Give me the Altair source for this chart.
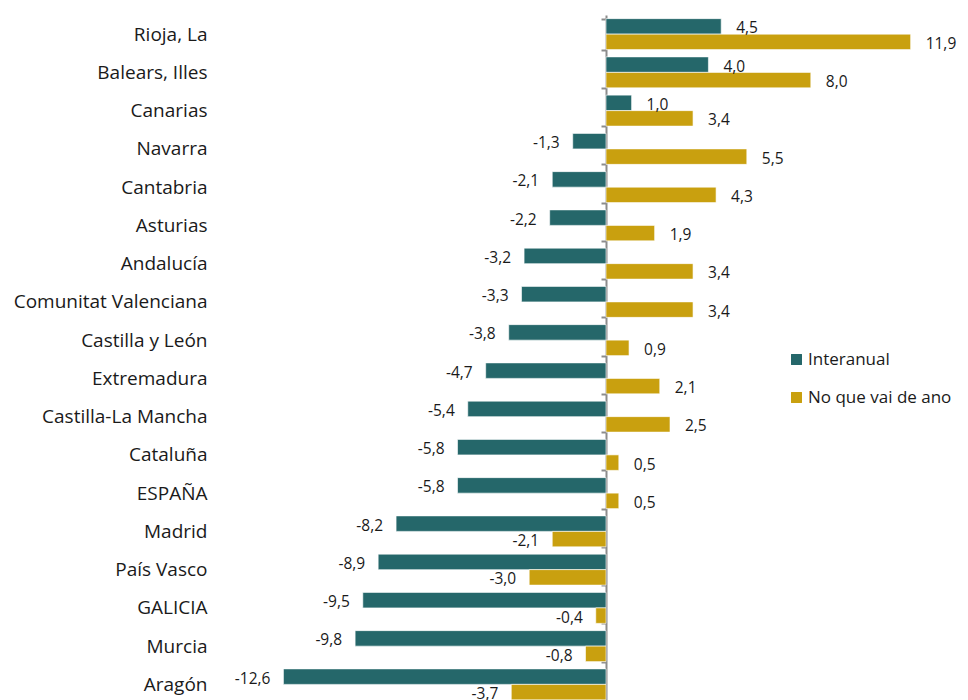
import altair as alt
import pandas as pd

categories = ["Rioja, La", "Balears, Illes", "Canarias", "Navarra", "Cantabria", "Asturias",
              "Andalucía", "Comunitat Valenciana", "Castilla y León", "Extremadura",
              "Castilla-La Mancha", "Cataluña", "ESPAÑA", "Madrid", "País Vasco", "GALICIA",
              "Murcia", "Aragón"]
interanual = [4.5, 4.0, 1.0, -1.3, -2.1, -2.2, -3.2, -3.3, -3.8, -4.7, -5.4, -5.8, -5.8,
              -8.2, -8.9, -9.5, -9.8, -12.6]
ano = [11.9, 8.0, 3.4, 5.5, 4.3, 1.9, 3.4, 3.4, 0.9, 2.1, 2.5, 0.5, 0.5, -2.1, -3.0, -0.4,
       -0.8, -3.7]
series = ["Interanual", "No que vai de ano"]
colors = ["#25676a", "#c9a00f"]

rows = []
for c, a, b in zip(categories, interanual, ano):
    for s, v in zip(series, (a, b)):
        rows.append({"cat": c, "serie": s, "valor": v,
                     "label": f"{v:.1f}".replace(".", ",")})
df = pd.DataFrame(rows)

FONT = "Open Sans"

y_enc = alt.Y("cat:N", sort=categories,
              scale=alt.Scale(paddingInner=0.19, paddingOuter=0.095),
              axis=alt.Axis(title=None, orient="left", offset=-386, domainColor="#8c8c8c",
                            domainWidth=2, tickColor="#8c8c8c", tickWidth=2, tickSize=5,
                            tickBand="extent", labelPadding=394, labelFont=FONT,
                            labelFontSize=19, labelColor="#1a1a1a", labelAlign="right",
                            labelLimit=0))
x_enc = alt.X("valor:Q", scale=alt.Scale(domain=[-15.078, 13.828], nice=False, zero=False),
              axis=None)
yoff = alt.YOffset("serie:N", sort=series, scale=alt.Scale(paddingInner=0, paddingOuter=0))

base = alt.Chart(df)

bars = base.mark_bar(stroke="white", strokeWidth=0.6).encode(
    y=y_enc, x=x_enc, yOffset=yoff,
    color=alt.Color("serie:N", sort=series,
                    scale=alt.Scale(domain=series, range=colors),
                    legend=alt.Legend(title=None, orient="none", legendX=568, legendY=336,
                                      symbolType="square", symbolSize=120,
                                      symbolStrokeWidth=0, labelFont=FONT,
                                      labelFontSize=17, labelColor="#1a1a1a",
                                      rowPadding=20, labelOffset=3, labelLimit=0)))

pos_text = base.transform_filter("datum.valor >= 0").mark_text(
    align="left", baseline="middle", dx=15, dy=2, font=FONT, fontSize=15.5, color="#1a1a1a"
).encode(y=alt.Y("cat:N", sort=categories), x="valor:Q", yOffset=yoff, text="label:N")

neg_text = base.transform_filter("datum.valor < 0").mark_text(
    align="right", baseline="middle", dx=-13, dy=2, font=FONT, fontSize=15.5, color="#1a1a1a"
).encode(y=alt.Y("cat:N", sort=categories), x="valor:Q", yOffset=yoff, text="label:N")

chart = alt.layer(bars, pos_text, neg_text).properties(
    width=740, height=688.5,
    autosize=alt.AutoSizeParams(type="none"),
    padding={"left": 212, "top": 7, "right": 0, "bottom": 0},
).configure_view(stroke=None)

chart.save("out.html", embed_options={"renderer": "svg", "actions": False})
